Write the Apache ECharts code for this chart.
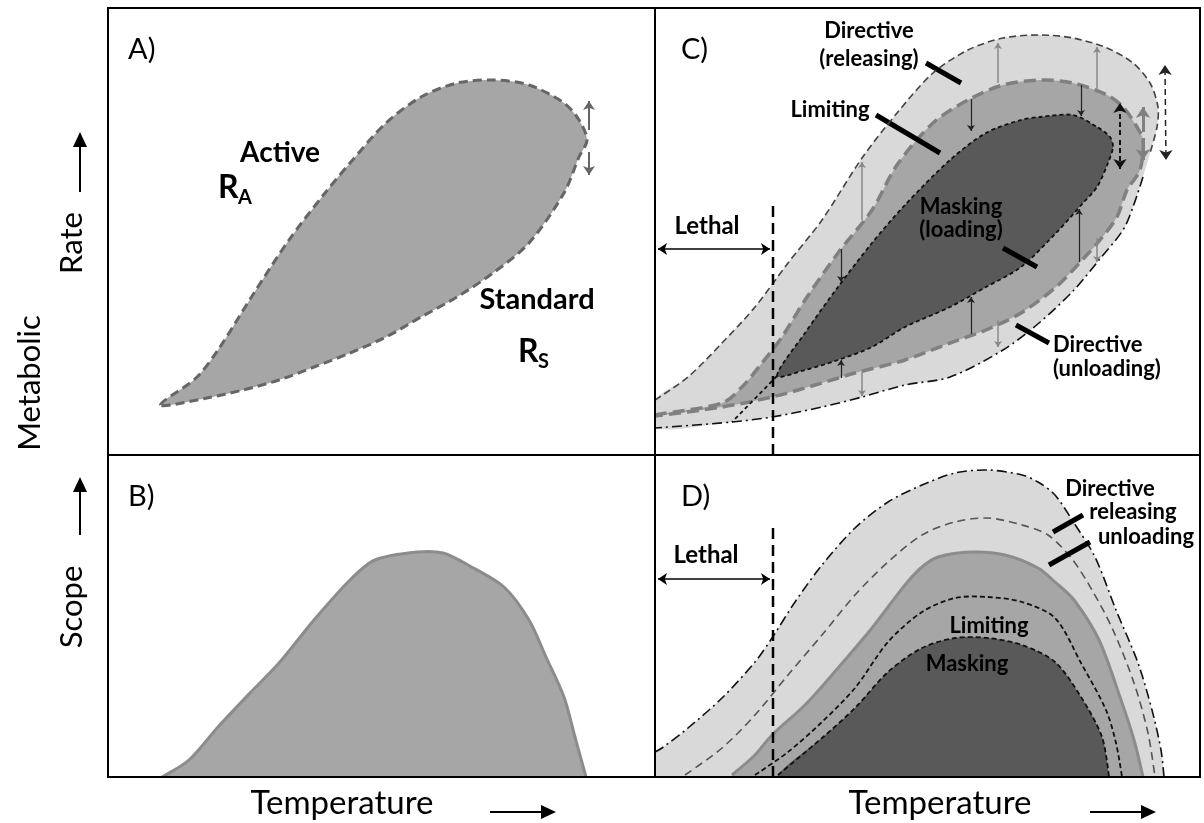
<!DOCTYPE html>
<html>
<head>
<meta charset="utf-8">
<script src="https://cdn.jsdelivr.net/npm/echarts@6/dist/echarts.min.js"></script>
<style>
  html, body { margin: 0; padding: 0; background: #fff; }
  #chart { width: 1204px; height: 823px; }
</style>
</head>
<body>
<div id="chart"></div>
<script>
// Unidades arbitrarias: x = temperatura, y = tasa / scope metabólico (por panel)

// --- Panel A: envolvente metabólica (activa arriba, estándar abajo)
const activeRate = [[10.5,10],[17.6,15.4],[22,21],[29.2,32.4],[36.2,43],[43.4,52.4],[48.4,58.4],[55.6,66.4],[62.6,71.6],[69.8,74.4],[77,75],[84.2,74],[91.2,70.4],[94.2,67],[95.8,63]];
const standardRate = [[94.2,59.6],[91.2,52.4],[84.2,42.4],[77,36.4],[69.8,31.6],[62.6,27.6],[55.6,23.6],[48.4,20.4],[41.2,17.6],[34.2,15],[27,13],[19.8,11.4]];
const arrowsA = [[[96.2,65],[96.2,70.8]], [[96.2,60.6],[96.2,56]]];

// --- Panel B: scope aeróbico
const scopeB = [[10.8,0],[16.2,3.4],[22,10],[28.4,16.8],[34.2,22.8],[41.2,31.4],[48.4,39.4],[53.4,43.4],[62,45],[67,44.8],[72,42.4],[79.2,38],[84.2,31.4],[87.6,24],[91.2,16],[93.4,8],[95.6,0]];

// --- Panel C: envolventes de tasa
const releasingTop = [[0,11],[6.6,15.6],[13.4,22.4],[20,29.6],[26.6,38.4],[33.4,47],[41.4,59.4],[48.4,68.4],[55.6,76.4],[62.6,81],[69.6,83.4],[77,84],[83.6,83.4],[90.4,81.4],[95.6,78.4],[99,74.4],[100.6,69.6],[100.4,65.6],[99,60.4]];
const unloadingBottom = [[97.6,55.6],[95.6,49.6],[93.6,45],[88.8,39],[83.8,33],[76.8,26.4],[69.6,21],[59,15.6],[50,14],[41.4,11.6],[33.4,9.6],[23.4,7.6],[15.4,6.6],[0,5.4]];
const limitingTop = [[0,8],[13.4,10.4],[17.4,13.6],[21.4,18.4],[25.4,23.6],[30,31],[36.6,40.4],[43.4,49],[48.4,58],[55.6,66.4],[62.6,71],[69.6,74],[77,75],[83.6,74.4],[90.4,72],[93.6,69.6],[96.4,65.6],[97.6,63]];
const limitingBottom = [[97,57],[94.4,53],[92.4,47.6],[89,43],[86,39.6],[80.2,33.6],[73.2,28.4],[66.2,25],[59,22.4],[50,19],[40,16.4],[33.4,14.4],[23.4,11.6],[13.4,9.6],[0,7.8]];
const maskingTop = [[24.4,15.8],[30,24.4],[36.6,33.6],[43.4,42.4],[50,50],[59,59],[66.2,64.4],[73.2,67],[77,67.6],[83.6,68],[88.4,65.6],[91,63.6],[91.6,61.6]];
const maskingBottom = [[90.6,58.4],[88.4,53.6],[85.6,50.4],[80.2,44.4],[73.2,37.6],[66.2,33.6],[59,29.6],[50,25.6],[43.4,21.6],[36.6,19],[30,17]];
const maskingTail = [[24.4,15.8],[15.4,6.6]];
const lethalC = [[23.6,0],[23.6,51]];
const grayUpC = [[[41.4,47],[41.4,58.6]], [[68.6,74.4],[68.6,82.4]], [[88.4,73],[88.4,81.6]]];
const grayDownC = [[[41.4,16.6],[41.4,11.8]], [[68.6,27],[68.6,21.6]], [[88.4,43.4],[88.4,38.6]]];
const blackDownC = [[[37.2,41.2],[37.2,34.6]], [[63.2,71.2],[63.2,64.8]], [[85.2,74],[85.2,67.8]]];
const blackUpC = [[[37.2,15.4],[37.2,19]], [[63.2,24.2],[63.2,31.6]], [[84.8,38.6],[84.8,49.2]]];
const barsC = [[[54.2,78.4],[61.2,74.4]], [[44.2,68],[57,60.4]], [[69.6,41.4],[76.4,37.6]], [[72.2,26],[78.8,22.4]]];
const lethalArrowC = [[0.6,41.2],[23,41.2]];

// --- Panel D: envolventes de scope
const releasingD = [[0,5],[1.4,5.8],[6.6,9.8],[13.4,15.8],[20,23],[23.4,27.8],[28,35],[33.4,42.4],[40,49.8],[46.6,55],[53.4,58.4],[60,60.8],[66.6,61.4],[73.4,60.4],[76.6,59],[80,56.4],[83.8,50.8],[88,44],[92.2,33.4],[96.6,22.8],[99.4,13.4],[101.2,5.4],[101.8,0]];
const unloadingD = [[6,0.4],[13.4,5.8],[20,12.4],[26.6,20.4],[33.4,28.4],[40,36.4],[46.6,43],[53.4,48.4],[60,51],[66.6,51.8],[73.4,50.4],[78.6,48.4],[83.4,43.6],[87.4,37.4],[91.6,29.4],[95.8,18.8],[98.6,8.8],[100,0]];
const scopeD = [[15.4,0.4],[20,4.4],[23.4,8.4],[30,14.4],[36.6,21.8],[43.4,29.8],[50,38.4],[53.4,42],[56.6,44],[63.4,45],[70,44.4],[76.6,41.8],[80,39],[83.8,35.4],[88.8,27.4],[93,16],[95.8,7.4],[97.6,0]];
const limitingD = [[20,0.4],[26.6,5],[33.4,11],[40,17.8],[46.6,27],[53.4,33],[60,35.8],[66.6,36],[73.4,35],[80,31.8],[85.2,22.8],[90.2,13.4],[92.2,6.8],[93.4,0]];
const maskingD = [[24.6,0.4],[33.4,7.8],[40,13.8],[46.6,21],[53.4,25.8],[60,27.8],[66.6,27.8],[73.4,26.4],[80,23],[85.2,16],[89.4,8],[90.8,0]];
const lethalD = [[23.6,0],[23.6,49.8]];
const barsD = [[[79.6,49],[85.6,52.4]], [[78.8,42.4],[87,47]]];
const lethalArrowD = [[0.6,39.6],[23,39.6]];

const FONT = "Lato, 'Open Sans', sans-serif";

const chart = echarts.init(document.getElementById('chart'));

// Dibuja un polígono o polilínea suavizada a partir de puntos en unidades de los ejes
function shape(idx, pts, closed, style, smooth, z) {
  return {
    type: 'custom', xAxisIndex: idx, yAxisIndex: idx, clip: true, silent: true, z: z || 2,
    data: pts,
    renderItem: function (params, api) {
      if (params.dataIndex !== 0) return null;
      const points = pts.map(p => api.coord(p));
      return {
        type: closed ? 'polygon' : 'polyline',
        shape: { points: points, smooth: smooth == null ? 0.35 : smooth },
        style: Object.assign({ fill: closed ? '#a6a6a6' : 'none' }, style)
      };
    }
  };
}

// Área bajo una curva: se cierra por debajo del eje (queda recortada)
function areaUnder(idx, pts, fill, z) {
  const closed = pts.concat([[pts[pts.length - 1][0], -4], [pts[0][0], -4]]);
  return shape(idx, closed, true, { fill: fill, stroke: 'none' }, 0.3, z);
}

function arrows(idx, pairs, lineStyle, symbol, size) {
  return {
    type: 'line', xAxisIndex: idx, yAxisIndex: idx, data: [], silent: true, z: 20,
    markLine: {
      silent: true, animation: false,
      symbol: symbol, symbolSize: size || 7,
      label: { show: false },
      lineStyle: lineStyle,
      data: pairs.map(p => [{ coord: p[0] }, { coord: p[1] }])
    }
  };
}

function vline(idx, pts) {
  return {
    type: 'line', xAxisIndex: idx, yAxisIndex: idx, data: pts, symbol: 'none', silent: true, z: 30,
    lineStyle: { color: '#000', width: 2.5, type: [11, 6] }
  };
}

function txt(x, y, text, size, bold, align, rot) {
  return {
    type: 'text', x: x, y: y, rotation: rot || 0, silent: true, z: 100,
    style: {
      text: text, fill: '#000', textAlign: align || 'center', textVerticalAlign: 'middle',
      font: (bold ? 'bold ' : '') + size + 'px ' + FONT
    }
  };
}

function arrowGfx(x1, y1, x2, y2) {
  const ang = Math.atan2(y2 - y1, x2 - x1), L = 15, W = 7;
  const bx = x2 - L * Math.cos(ang), by = y2 - L * Math.sin(ang);
  return [
    { type: 'line', silent: true, shape: { x1: x1, y1: y1, x2: bx, y2: by }, style: { stroke: '#000', lineWidth: 2 } },
    { type: 'polygon', silent: true, shape: { points: [[x2, y2], [bx - W * Math.sin(ang), by + W * Math.cos(ang)], [bx + W * Math.sin(ang), by - W * Math.cos(ang)]] }, style: { fill: '#000' } }
  ];
}

const grids = [
  { left: 108, top: 8, width: 547, height: 447 },
  { left: 108, top: 455, width: 547, height: 322 },
  { left: 655, top: 8, width: 545, height: 447 },
  { left: 655, top: 455, width: 545, height: 322 }
].map(g => Object.assign({ show: true, borderColor: '#000', borderWidth: 2, backgroundColor: 'transparent', z: 50 }, g));

const xMax = [109.4, 109.4, 109, 109];
const yMax = [89.4, 64.4, 89.4, 64.4];

const option = {
  animation: false,
  backgroundColor: '#fff',
  grid: grids,
  xAxis: xMax.map((m, i) => ({ type: 'value', gridIndex: i, min: 0, max: m, show: false })),
  yAxis: yMax.map((m, i) => ({ type: 'value', gridIndex: i, min: 0, max: m, show: false })),
  series: [
    // A
    shape(0, activeRate.concat(standardRate), true, { fill: '#a6a6a6', stroke: '#666', lineWidth: 3, lineDash: [9, 5] }, 0.3),
    arrows(0, arrowsA, { color: '#666', width: 2, type: 'solid' }, ['none', 'arrow'], 9),
    // B
    areaUnder(1, scopeB, '#a6a6a6', 2),
    shape(1, scopeB, false, { stroke: '#8c8c8c', lineWidth: 3 }, 0.3, 3),
    // C
    shape(2, releasingTop.concat(unloadingBottom), true, { fill: '#d9d9d9', stroke: 'none' }, 0.3),
    shape(2, limitingTop.concat(limitingBottom), true, { fill: '#a6a6a6', stroke: '#808080', lineWidth: 3.5, lineDash: [12, 6] }, 0.3, 3),
    shape(2, maskingTop.concat(maskingBottom), true, { fill: '#595959', stroke: '#111', lineWidth: 1.8, lineDash: [4, 3] }, 0.3, 4),
    shape(2, maskingTail, false, { stroke: '#111', lineWidth: 1.8, lineDash: [4, 3] }, 0, 4),
    shape(2, releasingTop, false, { stroke: '#444', lineWidth: 1.6, lineDash: [7, 4] }, 0.3, 5),
    shape(2, unloadingBottom, false, { stroke: '#111', lineWidth: 1.6, lineDash: [10, 4, 2, 4] }, 0.3, 5),
    arrows(2, grayUpC.concat(grayDownC), { color: '#888', width: 1.5, type: 'solid' }, ['none', 'arrow'], 6),
    arrows(2, blackDownC.concat(blackUpC), { color: '#222', width: 1.2, type: 'solid' }, ['none', 'arrow'], 6),
    arrows(2, barsC, { color: '#000', width: 5, type: 'solid' }, ['none', 'none']),
    arrows(2, [[[93, 64], [93, 70.4]], [[93, 63], [93, 57.2]]], { color: '#111', width: 2, type: [5, 3] }, ['none', 'arrow'], 10),
    arrows(2, [[[97.6, 64.6], [97.6, 69.6]], [[97.6, 63.4], [97.6, 59]]], { color: '#808080', width: 3, type: 'solid' }, ['none', 'arrow'], 11),
    arrows(2, [[[102.1, 68], [102, 78]], [[102.1, 67], [102.2, 59]]], { color: '#222', width: 1.5, type: [6, 4] }, ['none', 'arrow'], 10),
    arrows(2, [lethalArrowC], { color: '#000', width: 1.5, type: 'solid' }, ['arrow', 'arrow'], 9),
    vline(2, lethalC),
    // D
    areaUnder(3, releasingD, '#d9d9d9', 2),
    shape(3, releasingD, false, { stroke: '#111', lineWidth: 1.6, lineDash: [10, 4, 2, 4] }, 0.3, 3),
    shape(3, unloadingD, false, { stroke: '#555', lineWidth: 1.6, lineDash: [8, 5] }, 0.3, 3),
    areaUnder(3, scopeD, '#a6a6a6', 4),
    shape(3, scopeD, false, { stroke: '#8c8c8c', lineWidth: 3 }, 0.3, 5),
    shape(3, limitingD, false, { stroke: '#111', lineWidth: 1.8, lineDash: [5, 3] }, 0.3, 6),
    areaUnder(3, maskingD, '#595959', 7),
    shape(3, maskingD, false, { stroke: '#111', lineWidth: 1.8, lineDash: [5, 3] }, 0.3, 8),
    arrows(3, barsD, { color: '#000', width: 5, type: 'solid' }, ['none', 'none']),
    arrows(3, [lethalArrowD], { color: '#000', width: 1.5, type: 'solid' }, ['arrow', 'arrow'], 9),
    vline(3, lethalD)
  ],
  graphic: [
    txt(128, 50, 'A)', 29, false, 'left'),
    txt(128, 497, 'B)', 29, false, 'left'),
    txt(681, 50, 'C)', 29, false, 'left'),
    txt(681, 497, 'D)', 29, false, 'left'),
    txt(280, 153, 'Active', 28, true),
    txt(218, 188, 'R', 32, true, 'left'),
    txt(238, 198, 'A', 20, true, 'left'),
    txt(537, 300, 'Standard', 29, true),
    txt(518, 352, 'R', 32, true, 'left'),
    txt(538, 362, 'S', 20, true, 'left'),
    txt(869, 31, 'Directive', 22, true),
    txt(869, 59, '(releasing)', 22, true),
    txt(830, 110, 'Limiting', 22, true),
    txt(961, 207, 'Masking', 22, true),
    txt(961, 230, '(loading)', 22, true),
    txt(1053, 345, 'Directive', 22, true, 'left'),
    txt(1053, 369, '(unloading)', 22, true, 'left'),
    txt(707, 226, 'Lethal', 24, true),
    txt(706, 555, 'Lethal', 24, true),
    txt(1110, 489, 'Directive', 22, true),
    txt(1133, 512, 'releasing', 22, true),
    txt(1146, 537, 'unloading', 22, true),
    txt(989, 626, 'Limiting', 22, true),
    txt(967, 664, 'Masking', 22, true),
    txt(342, 803, 'Temperature', 33, false),
    txt(940, 803, 'Temperature', 33, false),
    txt(30, 383, 'Metabolic', 31, false, 'center', Math.PI / 2),
    txt(72, 243, 'Rate', 31, false, 'center', Math.PI / 2),
    txt(72, 607, 'Scope', 31, false, 'center', Math.PI / 2)
  ].concat(
    arrowGfx(80, 192, 80, 132),
    arrowGfx(80, 535, 80, 477),
    arrowGfx(490, 812, 556, 812),
    arrowGfx(1090, 812, 1156, 812)
  )
};

chart.setOption(option);
</script>
</body>
</html>
